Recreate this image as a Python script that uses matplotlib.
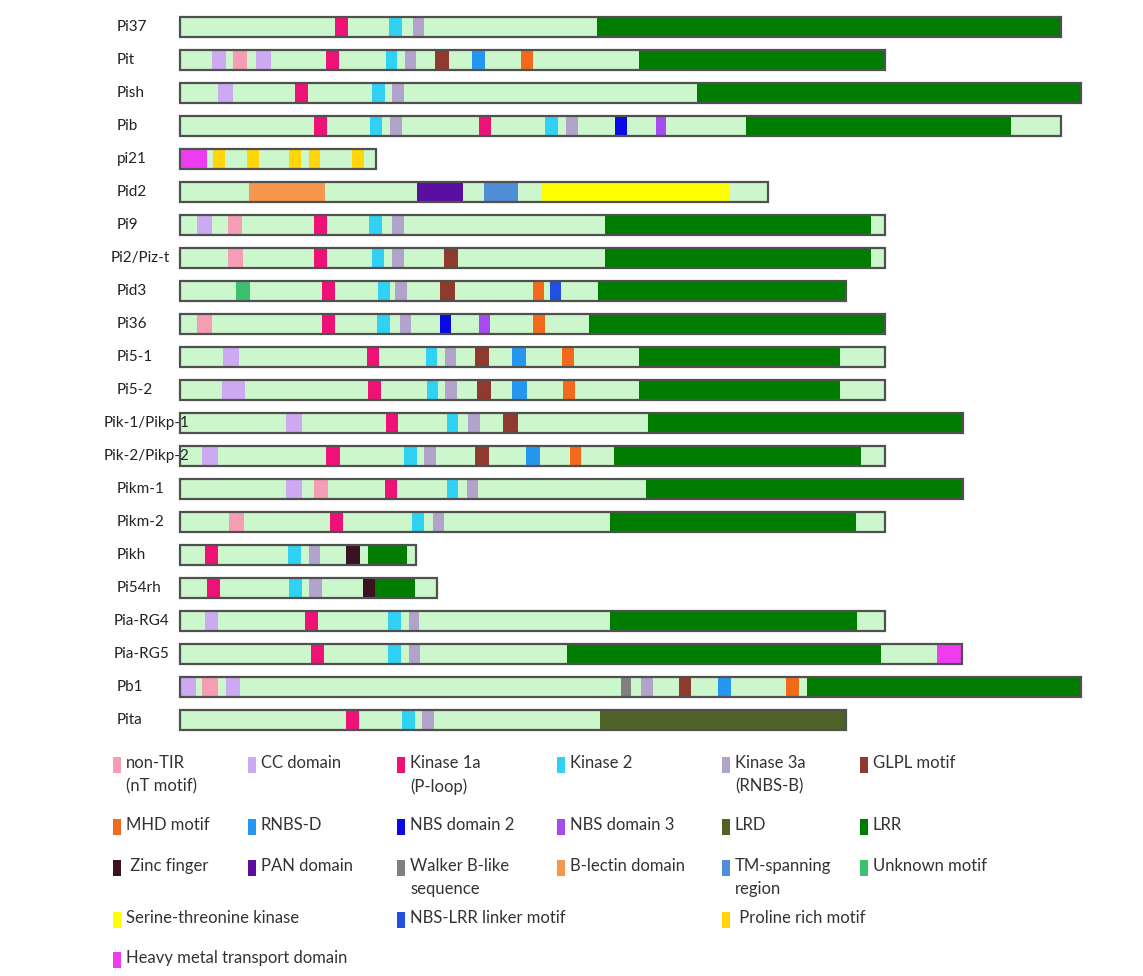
import matplotlib.pyplot as plt
from matplotlib.patches import Rectangle

plt.rcParams['font.family'] = ['Lato', 'DejaVu Sans']

# domain colours
colors = {
    'nT': '#F59DB5', 'CC': '#CDA9F2', 'K1a': '#EE1277', 'K2': '#2FD2F4',
    'K3a': '#B2A3CC', 'GLPL': '#8E3A2F', 'MHD': '#F46A1C', 'RNBSD': '#2597F0',
    'NBS2': '#0A0AE6', 'NBS3': '#A64BF0', 'LRD': '#4E6228', 'LRR': '#007D00',
    'ZF': '#3A1220', 'PAN': '#5A0FA0', 'WB': '#808080', 'BL': '#F5974C',
    'TM': '#4F8ED6', 'UNK': '#3DBF70', 'STK': '#FFFF00', 'LINK': '#1F50E0',
    'PRO': '#FFD60A', 'HMT': '#F03CF0',
}

genes = ['Pi37', 'Pit', 'Pish', 'Pib', 'pi21', 'Pid2', 'Pi9', 'Pi2/Piz-t', 'Pid3',
         'Pi36', 'Pi5-1', 'Pi5-2', 'Pik-1/Pikp-1', 'Pik-2/Pikp-2', 'Pikm-1',
         'Pikm-2', 'Pikh', 'Pi54rh', 'Pia-RG4', 'Pia-RG5', 'Pb1', 'Pita']

# protein lengths (drawing scale, start at 180)
seq_end = [1061, 885, 1081, 1061, 376, 768, 885, 885, 846, 885, 885, 885, 963,
           885, 963, 885, 416, 437, 885, 962, 1081, 846]

domains = [
    [('K1a', 335, 348), ('K2', 389, 402), ('K3a', 413, 424), ('LRR', 597, 1061)],
    [('CC', 212, 226), ('nT', 233, 247), ('CC', 256, 271), ('K1a', 326, 339),
     ('K2', 386, 397), ('K3a', 405, 416), ('GLPL', 435, 449), ('RNBSD', 472, 485),
     ('MHD', 521, 533), ('LRR', 639, 885)],
    [('CC', 218, 233), ('K1a', 295, 308), ('K2', 372, 385), ('K3a', 392, 404),
     ('LRR', 697, 1081)],
    [('K1a', 314, 327), ('K2', 370, 382), ('K3a', 390, 402), ('K1a', 479, 491),
     ('K2', 545, 558), ('K3a', 566, 578), ('NBS2', 615, 627), ('NBS3', 656, 666),
     ('LRR', 746, 1011)],
    [('HMT', 180, 207), ('PRO', 213, 225), ('PRO', 247, 259), ('PRO', 289, 301),
     ('PRO', 309, 320), ('PRO', 352, 364)],
    [('BL', 249, 325), ('PAN', 417, 463), ('TM', 484, 518), ('STK', 541, 730)],
    [('CC', 197, 212), ('nT', 228, 242), ('K1a', 314, 327), ('K2', 369, 382),
     ('K3a', 392, 404), ('LRR', 605, 871)],
    [('nT', 228, 243), ('K1a', 314, 327), ('K2', 372, 384), ('K3a', 392, 404),
     ('GLPL', 444, 458), ('LRR', 605, 871)],
    [('UNK', 236, 250), ('K1a', 322, 335), ('K2', 378, 390), ('K3a', 395, 407),
     ('GLPL', 440, 455), ('MHD', 533, 544), ('LINK', 550, 561), ('LRR', 598, 846)],
    [('nT', 197, 212), ('K1a', 322, 335), ('K2', 377, 390), ('K3a', 400, 411),
     ('NBS2', 440, 451), ('NBS3', 479, 490), ('MHD', 533, 545), ('LRR', 589, 885)],
    [('CC', 223, 239), ('K1a', 367, 379), ('K2', 426, 437), ('K3a', 445, 456),
     ('GLPL', 475, 489), ('RNBSD', 512, 526), ('MHD', 562, 574), ('LRR', 639, 840)],
    [('CC', 222, 245), ('K1a', 368, 381), ('K2', 427, 438), ('K3a', 445, 457),
     ('GLPL', 477, 491), ('RNBSD', 512, 527), ('MHD', 563, 575), ('LRR', 639, 840)],
    [('CC', 286, 302), ('K1a', 386, 398), ('K2', 447, 458), ('K3a', 468, 480),
     ('GLPL', 503, 518), ('LRR', 648, 963)],
    [('CC', 202, 218), ('K1a', 326, 340), ('K2', 404, 417), ('K3a', 424, 436),
     ('GLPL', 475, 489), ('RNBSD', 526, 540), ('MHD', 570, 581), ('LRR', 614, 861)],
    [('CC', 286, 302), ('nT', 314, 328), ('K1a', 385, 397), ('K2', 447, 458),
     ('K3a', 467, 478), ('LRR', 646, 963)],
    [('nT', 229, 244), ('K1a', 330, 343), ('K2', 412, 424), ('K3a', 433, 444),
     ('LRR', 610, 856)],
    [('K1a', 205, 218), ('K2', 288, 301), ('K3a', 309, 320), ('ZF', 346, 360),
     ('LRR', 368, 407)],
    [('K1a', 207, 220), ('K2', 289, 302), ('K3a', 309, 322), ('ZF', 363, 375),
     ('LRR', 375, 415)],
    [('CC', 205, 218), ('K1a', 305, 318), ('K2', 388, 401), ('K3a', 409, 419),
     ('LRR', 610, 857)],
    [('K1a', 311, 324), ('K2', 388, 401), ('K3a', 409, 420), ('LRR', 567, 881),
     ('HMT', 937, 962)],
    [('CC', 180, 196), ('nT', 202, 218), ('CC', 226, 240), ('WB', 621, 631),
     ('K3a', 641, 653), ('GLPL', 679, 691), ('RNBSD', 718, 731), ('MHD', 786, 799),
     ('LRR', 807, 1081)],
    [('K1a', 346, 359), ('K2', 402, 415), ('K3a', 422, 434), ('LRD', 600, 846)],
]

legend_keys = [['nT', 'CC', 'K1a', 'K2', 'K3a', 'GLPL'],
               ['MHD', 'RNBSD', 'NBS2', 'NBS3', 'LRD', 'LRR'],
               ['ZF', 'PAN', 'WB', 'BL', 'TM', 'UNK'],
               ['STK', None, 'LINK', None, 'PRO', None],
               ['HMT', None, None, None, None, None]]
legend_labels = {
    'nT': 'non-TIR\n(nT motif)', 'CC': 'CC domain', 'K1a': 'Kinase 1a\n(P-loop)',
    'K2': 'Kinase 2', 'K3a': 'Kinase 3a\n(RNBS-B)', 'GLPL': 'GLPL motif',
    'MHD': 'MHD motif', 'RNBSD': 'RNBS-D', 'NBS2': 'NBS domain 2',
    'NBS3': 'NBS domain 3', 'LRD': 'LRD', 'LRR': 'LRR', 'ZF': ' Zinc finger',
    'PAN': 'PAN domain', 'WB': 'Walker B-like\nsequence', 'BL': 'B-lectin domain',
    'TM': 'TM-spanning\nregion', 'UNK': 'Unknown motif',
    'STK': 'Serine-threonine kinase', 'LINK': 'NBS-LRR linker motif',
    'PRO': ' Proline rich motif', 'HMT': 'Heavy metal transport domain',
}

fig = plt.figure(figsize=(11.43, 9.76), dpi=100)
ax = fig.add_axes([0, 0, 1, 1])
ax.set_xlim(0, 1143)
ax.set_ylim(976, 0)
ax.axis('off')

start = 180
row_y0, row_step, bar_h = 27, 33, 20
label_x = {'Pi2/Piz-t': 111, 'Pik-1/Pikp-1': 104, 'Pik-2/Pikp-2': 104, 'Pia-RG4': 114,
           'Pia-RG5': 114}

for i, g in enumerate(genes):
    y = row_y0 + i * row_step
    ax.barh(y, seq_end[i] - start, left=start, height=bar_h, color='#CCF7CC',
            edgecolor='none', zorder=1)
    for key, a, b in domains[i]:
        ax.barh(y, b - a, left=a, height=bar_h, color=colors[key],
                edgecolor='none', zorder=2)
    ax.add_patch(Rectangle((start, y - bar_h / 2), seq_end[i] - start, bar_h,
                           fill=False, edgecolor='#505050', lw=1.6, zorder=3))
    ax.text(label_x.get(g, 117), y, g, ha='left', va='center', fontsize=11,
            color='#222222', zorder=4)

# legend
col_x = [113, 248, 397, 557, 722, 860]
row_ly = [765, 827, 868, 920, 960]
for r, keys in enumerate(legend_keys):
    for c, key in enumerate(keys):
        if key is None:
            continue
        x, y = col_x[c], row_ly[r]
        ax.add_patch(Rectangle((x, y - 8), 8, 16, color=colors[key], lw=0))
        ax.text(x + 13, y - 10, legend_labels[key], ha='left', va='top',
                fontsize=12, color='#333333', linespacing=1.55)

fig.savefig('out.png', dpi=100)
